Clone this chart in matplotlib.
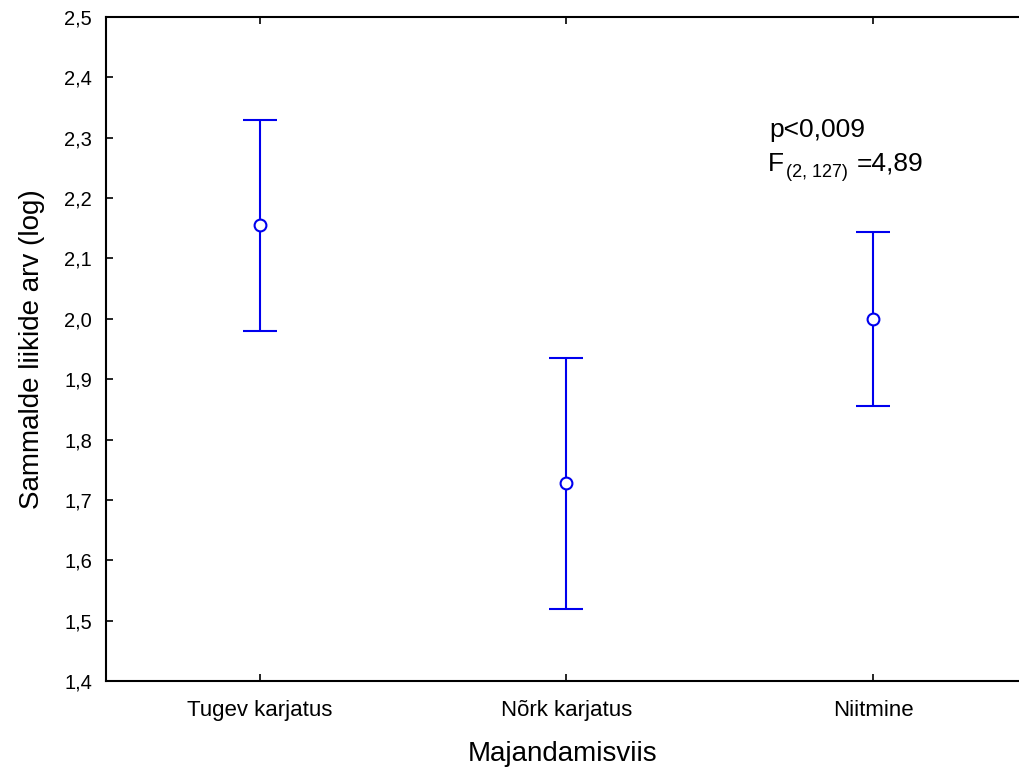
import numpy as np
import matplotlib.pyplot as plt

# group means and error limits (log of species count)
categories = ['Tugev karjatus', 'Nõrk karjatus', 'Niitmine']
means = [2.155, 1.728, 2.000]
upper = [2.330, 1.935, 2.144]
lower = [1.980, 1.520, 1.855]
yticks = [1.4, 1.5, 1.6, 1.7, 1.8, 1.9, 2.0, 2.1, 2.2, 2.3, 2.4, 2.5]

plt.rcParams['font.family'] = ['Liberation Sans', 'DejaVu Sans']

fig = plt.figure(figsize=(10.19, 7.69), dpi=100)
ax = fig.add_axes([106/1019, 1 - 681/769, 1 - 106/1019, (681 - 17)/769])

x = np.arange(len(categories))
m = np.array(means)
yerr = [m - np.array(lower), np.array(upper) - m]
ax.errorbar(x, m, yerr=yerr, fmt='o', color='#0000ee', mfc='white', mec='#0000ee',
            ms=8.5, mew=1.5, elinewidth=1.5, capsize=12, capthick=1.5)

ax.set_xlim(-0.502, 2.476)
ax.set_ylim(1.4, 2.5)
ax.set_yticks(yticks)
ax.set_yticklabels([f'{v:.1f}'.replace('.', ',') for v in yticks], fontsize=14.5)
ax.set_xticks(x)
ax.set_xticklabels(categories, fontsize=16)
ax.tick_params(direction='in', length=5, width=1.2, top=True, right=False)
ax.tick_params(axis='y', pad=10)
ax.tick_params(axis='x', pad=14)
ax.spines['right'].set_visible(False)
for s in ['left', 'bottom', 'top']:
    ax.spines[s].set_linewidth(1.5)

ax.set_ylabel('Sammalde liikide arv (log)', fontsize=20, labelpad=14)
ax.set_xlabel('Majandamisviis', fontsize=20, labelpad=14)

# statistics note, placed in pixel coordinates
ax.text(769, 769 - 137, 'p<0,009', fontsize=19, va='baseline', transform=None)
ax.text(768, 769 - 171, 'F', fontsize=19, va='baseline', transform=None)
ax.text(786, 769 - 177, '(2, 127)', fontsize=13, va='baseline', transform=None)
ax.text(857, 769 - 171, '=4,89', fontsize=19, va='baseline', transform=None)

fig.savefig('out.png', dpi=100)
